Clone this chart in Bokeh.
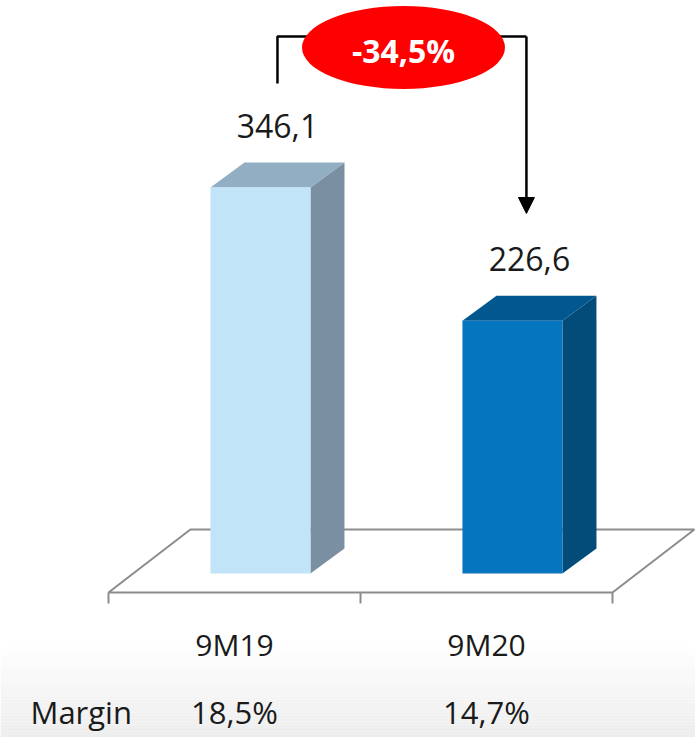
from bokeh.plotting import figure
from bokeh.models import Range1d, Arrow, NormalHead
from bokeh.core.properties import value
from bokeh.embed import file_html
from bokeh.resources import INLINE

# ---- data ----
categories = ["9M19", "9M20"]
values = [346.1, 226.6]
value_labels = ["346,1", "226,6"]
margin_title = "Margin"
margins = ["18,5%", "14,7%"]
change_label = "-34,5%"

front_colors = ["#C2E4F8", "#0575BF"]
top_colors = ["#91AEC3", "#03578F"]
side_colors = ["#7A90A2", "#034C7A"]

FONT = value("Open Sans")

# ---- layout (x: category index units, y: value units) ----
W, H = 695, 737
p = figure(width=W, height=H, output_backend="svg", toolbar_location=None,
           x_range=Range1d(-0.9286, 1.8294), y_range=Range1d(-147.05, 513.77),
           min_border=0, min_border_left=0, min_border_right=0,
           min_border_top=0, min_border_bottom=0)
p.axis.visible = False
p.grid.visible = False
p.outline_line_color = None
p.background_fill_color = "white"
p.border_fill_color = "white"

# background gradient at the bottom
n_bands = 30
g_top, g_bot = -62.0, -147.05
for k in range(n_bands):
    t0 = g_top + (g_bot - g_top) * k / n_bands
    t1 = g_top + (g_bot - g_top) * (k + 1) / n_bands
    c = int(round(255 - (255 - 237) * (k + 0.5) / n_bands))
    p.quad(left=-0.9286, right=1.8294, top=t0, bottom=t1,
           fill_color="#%02x%02x%02x" % (c, c, c), line_color=None)

# floor plane
fdx, fdy = 0.325, 56.5
f_front = -17.0
fx = [-0.5, 1.5, 1.5 + fdx, -0.5 + fdx]
fy = [f_front, f_front, f_front + fdy, f_front + fdy]
p.patch(fx, fy, fill_color="white", line_color="#8C8C8C", line_width=2)
# tick marks
for tx in [-0.5, 0.5, 1.5]:
    p.segment(x0=tx, y0=f_front, x1=tx, y1=-26.9, line_color="#8C8C8C", line_width=2)

# 3D bars
hw = 0.1984
off = 0.103
dx, dy = 0.135, 22.4
for i, v in enumerate(values):
    cx = i + off
    l, r = cx - hw, cx + hw
    # side
    p.patch([r, r + dx, r + dx, r], [0, dy, v + dy, v],
            fill_color=side_colors[i], line_color=None)
    # top
    p.patch([l, r, r + dx, l + dx], [v, v, v + dy, v + dy],
            fill_color=top_colors[i], line_color=None)
    # front
    p.quad(left=l, right=r, bottom=0, top=v, fill_color=front_colors[i], line_color=None)
    # value label
    p.text(x=[cx + dx / 2], y=[v + dy + 33], text=[value_labels[i]],
           text_font=FONT, text_font_size="32px", text_color="#1A1A1A",
           text_align="center", text_baseline="middle")

# category labels
p.text(x=list(range(len(categories))), y=[-64] * len(categories), text=categories,
       text_font=FONT, text_font_size="30px", text_color="#1A1A1A",
       text_align="center", text_baseline="middle")

# margin row
p.text(x=[-0.8095], y=[-124], text=[margin_title], text_font=FONT,
       text_font_size="31px", text_color="#1A1A1A", text_align="left",
       text_baseline="middle")
p.text(x=list(range(len(margins))), y=[-124] * len(margins), text=margins,
       text_font=FONT, text_font_size="31px", text_color="#1A1A1A",
       text_align="center", text_baseline="middle")

# bracket with arrow
lx = 0 + off + dx / 2
rx = 1 + off + dx / 2 - 0.012
ytop = 481.5
p.line([lx, lx, rx], [439.3, ytop, ytop], line_color="black", line_width=2.5)
p.add_layout(Arrow(end=NormalHead(size=16, fill_color="black", line_color="black"),
                   x_start=rx, y_start=ytop, x_end=rx, y_end=322.8,
                   line_color="black", line_width=2.5))

# red ellipse with change label
p.ellipse(x=[0.6706], y=[471.6], width=0.8056, height=74.4,
          fill_color="#FF0000", line_color=None)
p.text(x=[0.6706], y=[469], text=[change_label], text_font=FONT,
       text_font_size="32px", text_font_style="bold", text_color="white",
       text_align="center", text_baseline="middle")

open("out.html", "w").write(file_html(p, INLINE))
